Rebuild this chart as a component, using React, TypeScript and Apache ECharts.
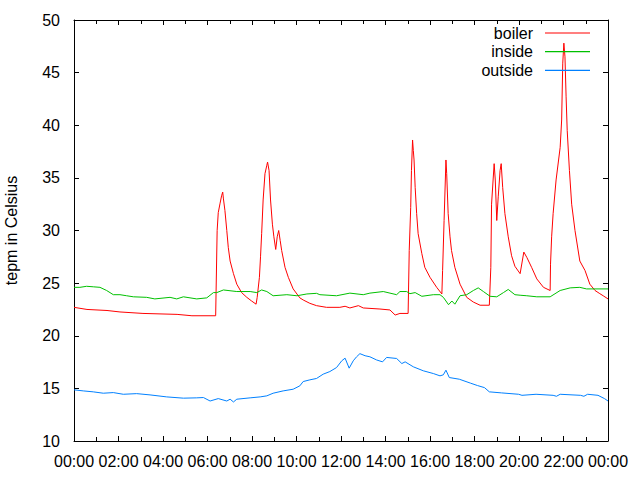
import React, { useEffect, useRef } from "react";
import * as echarts from "echarts";

const seriesNames = ["boiler", "inside", "outside"];
const seriesColors = ["#ff0000", "#00c000", "#0080ff"];

const boilerTimes = [
  "00:00", "00:35", "01:29", "02:04", "03:06", "04:38", "05:18", "06:22", "06:26", "06:29",
  "06:34", "06:38", "06:41", "06:43", "06:47", "06:52", "06:56", "07:01", "07:10", "07:19",
  "07:32", "07:46", "07:59", "08:11", "08:14", "08:20", "08:23", "08:26", "08:30", "08:35",
  "08:40", "08:42", "08:46", "08:50", "08:55", "08:59", "09:04", "09:08", "09:12", "09:16",
  "09:20", "09:29", "09:38", "09:51", "10:09", "10:18", "10:36", "10:54", "11:21", "11:57",
  "12:11", "12:24", "12:47", "13:00", "13:45", "14:12", "14:26", "14:39", "15:01", "15:04",
  "15:08", "15:10", "15:13", "15:15", "15:17", "15:20", "15:24", "15:28", "15:38", "15:46",
  "16:00", "16:18", "16:32", "16:34", "16:38", "16:43", "16:45", "16:49", "16:54", "16:58",
  "17:07", "17:21", "17:39", "17:57", "18:15", "18:40", "18:44", "18:46", "18:53", "18:56",
  "19:00", "19:04", "19:09", "19:12", "19:16", "19:22", "19:31", "19:40", "19:49", "20:03",
  "20:13", "20:21", "20:34", "20:48", "21:06", "21:24", "21:25", "21:28", "21:32", "21:40",
  "21:51", "21:55", "21:58", "22:01", "22:04", "22:07", "22:10", "22:16", "22:22", "22:31",
  "22:44", "22:58", "23:11", "23:25", "23:38", "23:47", "24:00"
];
const boilerTemps = [
  22.7, 22.5, 22.4, 22.26, 22.12, 22.03, 21.9, 21.9, 30.0, 31.7,
  32.6, 33.3, 33.65, 33.0, 31.9, 30.0, 28.4, 27.1, 25.9, 24.9,
  24.1, 23.65, 23.3, 23.0, 23.65, 25.55, 27.5, 29.7, 32.9, 35.4,
  36.2, 36.5, 35.7, 32.9, 30.6, 29.4, 28.2, 29.4, 30.0, 29.05,
  28.1, 26.5, 25.55, 24.45, 23.6, 23.4, 23.08, 22.86, 22.7, 22.7,
  22.8, 22.64, 22.86, 22.64, 22.54, 22.45, 21.97, 22.12, 22.12, 28.1,
  32.2, 35.7, 38.6, 37.6, 36.7, 34.1, 31.6, 29.7, 27.8, 26.5,
  25.55, 24.6, 23.97, 26.2, 30.95, 36.7, 35.4, 31.6, 29.4, 28.1,
  26.5, 24.9, 23.65, 23.2, 22.9, 22.9, 26.5, 32.5, 36.35, 34.8,
  30.95, 33.2, 35.7, 36.35, 34.1, 31.6, 29.4, 27.6, 26.6, 25.9,
  27.95, 27.45, 26.5, 25.4, 24.6, 24.3, 26.8, 29.4, 31.6, 34.8,
  37.9, 40.5, 45.9, 47.8, 46.5, 42.7, 39.5, 35.7, 32.5, 30.0,
  27.1, 26.2, 24.9, 24.3, 24.0, 23.8, 23.5
];

const insideTimes = [
  "00:00", "00:16", "00:34", "00:52", "01:10", "01:28", "01:46", "02:04", "02:22", "02:40",
  "03:16", "03:38", "04:19", "04:37", "04:55", "05:31", "05:58", "06:16", "06:25", "06:43",
  "07:19", "07:55", "08:13", "08:26", "08:40", "08:57", "09:34", "10:01", "10:28", "10:54",
  "11:03", "11:48", "12:24", "13:00", "13:18", "13:54", "14:12", "14:30", "14:39", "14:57",
  "15:06", "15:20", "15:38", "16:09", "16:27", "16:36", "16:50", "16:59", "17:07", "17:21",
  "17:39", "17:57", "18:10", "18:24", "18:42", "19:00", "19:18", "19:31", "19:49", "20:03",
  "20:21", "20:48", "21:24", "21:51", "22:18", "22:44", "23:02", "24:00"
];
const insideTemps = [
  24.6, 24.6, 24.7, 24.65, 24.6, 24.3, 23.9, 23.9, 23.8, 23.7,
  23.65, 23.5, 23.65, 23.5, 23.7, 23.5, 23.6, 24.1, 24.1, 24.35,
  24.2, 24.2, 24.1, 24.35, 24.2, 23.8, 23.9, 23.8, 23.97, 24.03,
  23.9, 23.8, 24.05, 23.9, 24.05, 24.2, 24.05, 23.9, 24.2, 24.2,
  24.0, 24.1, 23.75, 23.9, 23.9, 23.65, 22.95, 23.3, 23.0, 23.8,
  23.9, 24.3, 24.55, 24.2, 23.75, 23.7, 24.1, 24.4, 23.9, 23.85,
  23.8, 23.7, 23.7, 24.3, 24.55, 24.6, 24.45, 24.45
];

const outsideTimes = [
  "00:00", "00:25", "00:52", "01:19", "01:46", "02:13", "02:49", "03:25", "04:10", "04:55",
  "05:31", "05:49", "06:07", "06:29", "06:52", "07:01", "07:10", "07:19", "07:55", "08:22",
  "08:40", "08:57", "09:24", "09:51", "10:09", "10:18", "10:36", "10:54", "11:12", "11:30",
  "11:48", "12:02", "12:11", "12:22", "12:33", "12:42", "12:51", "13:05", "13:18", "13:36",
  "13:52", "14:03", "14:30", "14:44", "14:53", "15:15", "15:42", "16:09", "16:27", "16:36",
  "16:43", "16:52", "17:19", "17:49", "18:08", "18:27", "18:40", "19:13", "19:59", "20:08",
  "20:46", "21:32", "21:41", "21:51", "22:46", "22:55", "23:05", "23:33", "23:51", "24:00"
];
const outsideTemps = [
  14.86, 14.76, 14.67, 14.54, 14.6, 14.44, 14.5, 14.38, 14.19, 14.07,
  14.1, 14.13, 13.8, 14.03, 13.8, 13.97, 13.71, 13.97, 14.1, 14.19,
  14.29, 14.54, 14.76, 14.92, 15.24, 15.65, 15.81, 15.94, 16.35, 16.6,
  16.98, 17.62, 17.87, 16.92, 17.62, 18.0, 18.3, 18.1, 18.0, 17.7,
  17.52, 17.94, 17.84, 17.36, 17.52, 17.05, 16.67, 16.41, 16.19, 16.29,
  16.73, 16.03, 15.87, 15.5, 15.27, 15.07, 14.67, 14.57, 14.44, 14.34,
  14.44, 14.34, 14.25, 14.44, 14.34, 14.25, 14.44, 14.34, 14.02, 13.8
];

const yLabel = "tepm in Celsius";

function toHours(t: string): number {
  const [h, m] = t.split(":").map(Number);
  return h + m / 60;
}

function pairs(times: string[], temps: number[]): number[][] {
  return times.map((t, i) => [toHours(t), temps[i]]);
}

function fmtHour(v: number): string {
  const h = Math.round(v) % 24;
  return (h < 10 ? "0" : "") + h + ":00";
}

const FONT = "'Liberation Sans', Arial, sans-serif";

export default function App() {
  const ref = useRef<HTMLDivElement>(null);
  useEffect(() => {
    if (!ref.current) return;
    const chart = echarts.init(ref.current, null, { renderer: "svg" });
    const tickStyle = { color: "#000", width: 1 };
    const allSeries = [
      pairs(boilerTimes, boilerTemps),
      pairs(insideTimes, insideTemps),
      pairs(outsideTimes, outsideTemps),
    ];
    chart.setOption({
      animation: false,
      backgroundColor: "#ffffff",
      textStyle: { fontFamily: FONT },
      grid: {
        left: 74,
        right: 32,
        top: 20,
        bottom: 39,
        containLabel: false,
        outerBoundsMode: "none",
      },
      legend: {
        orient: "vertical",
        right: 45,
        top: 20,
        align: "right",
        itemWidth: 45,
        itemHeight: 16,
        itemGap: 2.7,
        icon: "path://M0,0H45V1.2H0Z",
        data: seriesNames,
        textStyle: { fontSize: 16, color: "#000", fontFamily: FONT, padding: [0, 7, 0, 0] },
        selectedMode: false,
      },
      xAxis: [
        {
          type: "value",
          min: 0,
          max: 24,
          interval: 2,
          position: "bottom",
          axisLine: { show: true, onZero: false, lineStyle: tickStyle },
          axisTick: { show: true, inside: true, length: 5, lineStyle: tickStyle },
          minorTick: { show: true, splitNumber: 2, length: 4, lineStyle: tickStyle },
          splitLine: { show: false },
          axisLabel: {
            color: "#000",
            fontSize: 16,
            fontFamily: FONT,
            margin: 12,
            formatter: (v: number) => fmtHour(v),
          },
        },
        {
          type: "value",
          min: 0,
          max: 24,
          interval: 2,
          position: "top",
          axisLine: { show: true, onZero: false, lineStyle: tickStyle },
          axisTick: { show: true, inside: true, length: 5, lineStyle: tickStyle },
          minorTick: { show: true, splitNumber: 2, length: 4, lineStyle: tickStyle },
          splitLine: { show: false },
          axisLabel: { show: false },
        },
      ],
      yAxis: [
        {
          type: "value",
          min: 10,
          max: 50,
          interval: 5,
          position: "left",
          name: yLabel,
          nameLocation: "middle",
          nameRotate: 90,
          nameGap: 55,
          nameTextStyle: { color: "#000", fontSize: 16, fontFamily: FONT },
          axisLine: { show: true, onZero: false, lineStyle: tickStyle },
          axisTick: { show: true, inside: true, length: 5, lineStyle: tickStyle },
          splitLine: { show: false },
          axisLabel: { color: "#000", fontSize: 16, fontFamily: FONT, margin: 14 },
        },
        {
          type: "value",
          min: 10,
          max: 50,
          interval: 5,
          position: "right",
          axisLine: { show: true, onZero: false, lineStyle: tickStyle },
          axisTick: { show: true, inside: true, length: 5, lineStyle: tickStyle },
          splitLine: { show: false },
          axisLabel: { show: false },
        },
      ],
      series: seriesNames.map((name, i) => ({
        name,
        type: "line",
        xAxisIndex: 0,
        yAxisIndex: 0,
        data: allSeries[i],
        symbol: "none",
        showSymbol: false,
        smooth: false,
        color: seriesColors[i],
        itemStyle: { color: seriesColors[i] },
        lineStyle: { color: seriesColors[i], width: 1 },
      })),
    });
    return () => chart.dispose();
  }, []);
  return (
    <div
      ref={ref}
      style={{ position: "absolute", left: 0, top: 0, width: 640, height: 480, background: "#fff" }}
    />
  );
}
